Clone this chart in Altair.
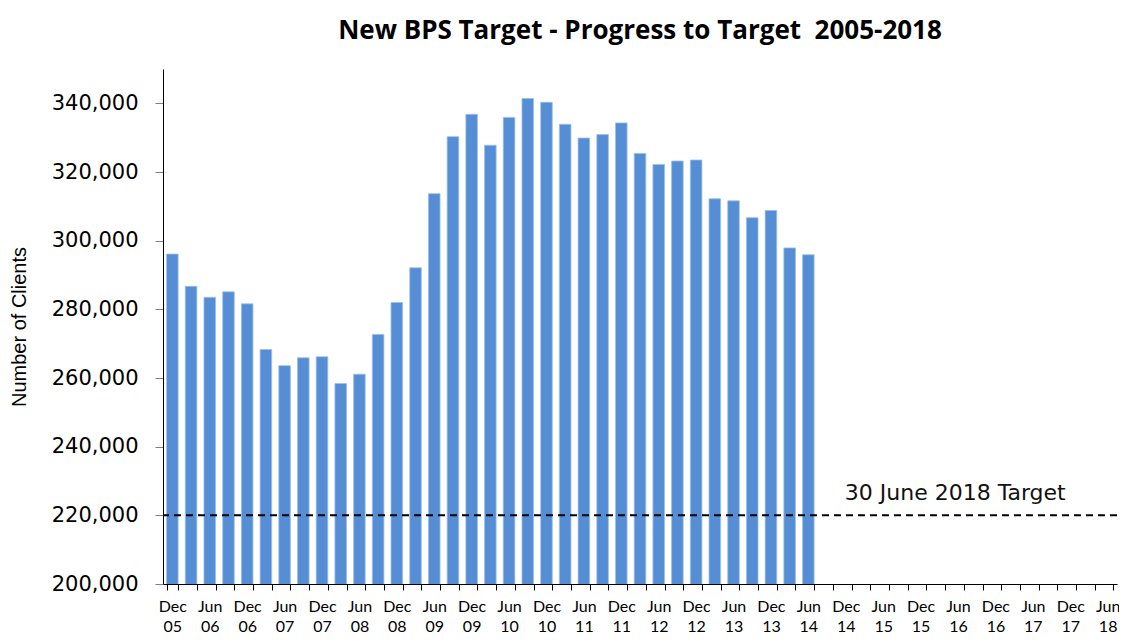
import altair as alt
import pandas as pd

quarters = [
    "Dec 05", "Mar 06", "Jun 06", "Sep 06", "Dec 06", "Mar 07", "Jun 07", "Sep 07",
    "Dec 07", "Mar 08", "Jun 08", "Sep 08", "Dec 08", "Mar 09", "Jun 09", "Sep 09",
    "Dec 09", "Mar 10", "Jun 10", "Sep 10", "Dec 10", "Mar 11", "Jun 11", "Sep 11",
    "Dec 11", "Mar 12", "Jun 12", "Sep 12", "Dec 12", "Mar 13", "Jun 13", "Sep 13",
    "Dec 13", "Mar 14", "Jun 14", "Sep 14", "Dec 14", "Mar 15", "Jun 15", "Sep 15",
    "Dec 15", "Mar 16", "Jun 16", "Sep 16", "Dec 16", "Mar 17", "Jun 17", "Sep 17",
    "Dec 17", "Mar 18", "Jun 18",
]

clients = [
    296100, 286700, 283500, 285100, 281600, 268300, 263600, 265900, 266200, 258400,
    261100, 272700, 282000, 292100, 313700, 330300, 336800, 327800, 335900, 341400,
    340300, 333900, 329900, 330900, 334300, 325400, 322200, 323200, 323500, 312200,
    311600, 306700, 308800, 297900, 295900,
]

y_ticks = [200000, 220000, 240000, 260000, 280000, 300000, 320000, 340000]
target_value = [220000]
target_label = ["30 June 2018 Target"]
target_label_at = ["Dec 14"]

bars_df = pd.DataFrame({"quarter": quarters[:len(clients)], "clients": clients})
target_df = pd.DataFrame({"value": target_value})
label_df = pd.DataFrame({"quarter": target_label_at, "value": target_value, "text": target_label})

x_scale = alt.Scale(domain=quarters, paddingInner=0.38, paddingOuter=0.19)
y_scale = alt.Scale(domain=[200000, 350000], nice=False, zero=False)

label_expr = (
    "(indexof(datum.label, 'Mar') == 0 || indexof(datum.label, 'Sep') == 0) "
    "? '' : split(datum.label, ' ')"
)

bars = alt.Chart(bars_df).mark_bar(
    color="#558ED5", stroke="#9FBFE8", strokeWidth=0.8, clip=True
).encode(
    x=alt.X(
        "quarter:N",
        scale=x_scale,
        sort=quarters,
        axis=alt.Axis(
            title=None,
            tickBand="extent",
            labelExpr=label_expr,
            labelAngle=0,
            labelFont="Lato",
            labelFontSize=16,
            labelLineHeight=20,
            labelColor="black",
            labelPadding=8,
            labelOverlap=False,
            tickColor="black",
            tickSize=6,
            domainColor="black",
            grid=False,
        ),
    ),
    y=alt.Y(
        "clients:Q",
        scale=y_scale,
        axis=alt.Axis(
            values=y_ticks,
            labelExpr="format(datum.value, ',.0f')",
            title="Number of Clients",
            titleFont="Liberation Sans",
            titleFontSize=20,
            titleFontWeight="normal",
            titleColor="black",
            titlePadding=22,
            labelFont="DejaVu Sans",
            labelFontSize=21,
            labelColor="black",
            labelPadding=17,
            tickColor="#808080",
            tickSize=8,
            domainColor="black",
            grid=False,
        ),
    ),
)

rule = alt.Chart(target_df).mark_rule(
    color="black", strokeDash=[7, 5], strokeWidth=2
).encode(y=alt.Y("value:Q", scale=y_scale))

label = alt.Chart(label_df).mark_text(
    align="left", baseline="bottom", dx=-1, dy=-10,
    font="DejaVu Sans", fontSize=22, color="#111111"
).encode(
    x=alt.X("quarter:N", scale=x_scale, sort=quarters),
    y=alt.Y("value:Q", scale=y_scale),
    text="text:N",
)

chart = alt.layer(bars, rule, label).properties(
    width=954,
    height=515,
    background="white",
    title=alt.Title(
        "New BPS Target - Progress to Target \u00a02005-2018",
        font="Open Sans",
        fontSize=26,
        fontWeight="bold",
        color="black",
        anchor="middle",
        offset=25,
    ),
    autosize=alt.AutoSizeParams(type="none"),
    padding={"left": 155, "top": 61, "right": 2, "bottom": 52},
).configure_view(strokeWidth=0, stroke=None)

chart.save("out.html", embed_options={"renderer": "svg", "actions": False})
